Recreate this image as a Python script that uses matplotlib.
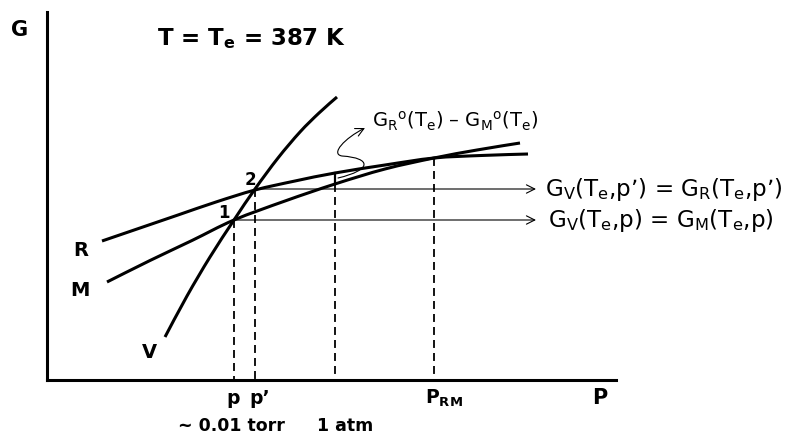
import matplotlib
matplotlib.use("Agg")
import matplotlib.pyplot as plt
from matplotlib.patches import FancyArrowPatch, PathPatch
from matplotlib.path import Path

plt.rcParams['font.family'] = ['DejaVu Sans']
plt.rcParams['mathtext.fontset'] = 'dejavusans'

# ---- schematic curve data (pixel-like units) ----
V_x = [165, 187, 210, 234, 255, 278, 300, 319, 337]
V_y = [337, 296, 257, 220, 189, 158, 132, 113, 97]

R_x = [102, 140, 178, 216, 255, 295, 335, 385, 434, 481, 528]
R_y = [241, 228, 215, 202, 190, 181, 173, 165, 158, 155.5, 154]

M_x = [107, 150, 192, 234, 285, 335, 385, 434, 477, 520]
M_y = [282, 260.5, 240.5, 220, 201, 184, 169, 158, 150, 143]

# characteristic pressures on the P axis
p_marks = [234, 255, 335, 434]          # p, p', 1 atm, P_RM
p_tops = [220, 189, 184, 158]           # where the dashed drop lines start
p_labels = ["p", "p’", "", "P$_\\mathbf{RM}$"]
p_label_x = [233, 260, 335, 444]


def smooth_path(xs, ys):
    """Catmull-Rom through the read points, drawn as cubic Bezier path."""
    pts = list(zip(xs, ys))
    n = len(pts)
    verts = [pts[0]]
    codes = [Path.MOVETO]
    for i in range(n - 1):
        p0 = pts[i - 1] if i > 0 else pts[i]
        p1 = pts[i]
        p2 = pts[i + 1]
        p3 = pts[i + 2] if i + 2 < n else pts[i + 1]
        c1 = (p1[0] + (p2[0] - p0[0]) / 6, p1[1] + (p2[1] - p0[1]) / 6)
        c2 = (p2[0] - (p3[0] - p1[0]) / 6, p2[1] - (p3[1] - p1[1]) / 6)
        verts += [c1, c2, p2]
        codes += [Path.CURVE4] * 3
    return Path(verts, codes)


fig = plt.figure(figsize=(7.86, 4.34), dpi=100)
x0, x1, y0, y1 = 47, 616, 12, 380
ax = fig.add_axes([x0 / 786, (434 - y1) / 434, (x1 - x0) / 786, (y1 - y0) / 434])
ax.set_xlim(x0, x1)
ax.set_ylim(y1, y0)
for s in ['top', 'right']:
    ax.spines[s].set_visible(False)
for s in ['left', 'bottom']:
    ax.spines[s].set_linewidth(2.2)
ax.set_xticks([])
ax.set_yticks([])
ax.patch.set_alpha(0)

lw = 2.2
for xs, ys in [(V_x, V_y), (R_x, R_y), (M_x, M_y)]:
    ax.add_patch(PathPatch(smooth_path(xs, ys), fill=False, edgecolor='black', lw=lw,
                           capstyle='butt', clip_on=False))

# dashed drop lines
for xm, yt in zip(p_marks, p_tops):
    ax.plot([xm, xm], [yt, y1], color='black', lw=1.3, dashes=(4.4, 2.8), clip_on=False)

# solid gap between M and R at 1 atm
ax.plot([335, 335], [173, 184], color='black', lw=1.6, clip_on=False)

# horizontal arrows
for yy, xs in [(189, 255), (220, 234)]:
    ax.add_patch(FancyArrowPatch((xs, yy), (536, yy), arrowstyle='->,head_length=6,head_width=3',
                                 lw=0.8, color='black', clip_on=False, shrinkA=0, shrinkB=0))

# squiggle arrow
verts = [(338, 178), (372, 170), (372, 158), (342, 156), (330, 154), (345, 138), (365, 128)]
codes = [Path.MOVETO] + [Path.CURVE4] * 6
ax.add_patch(FancyArrowPatch(path=Path(verts, codes), arrowstyle='->,head_length=6,head_width=3',
                             lw=0.8, color='black', clip_on=False, shrinkA=0, shrinkB=0))

# texts
ax.text(20, 30, "G", fontsize=15, fontweight='bold', ha='center', va='center')
ax.text(157, 45, "T = T$_\\mathbf{e}$ = 387 K", fontsize=16.5, fontweight='bold',
        ha='left', va='baseline')
ax.text(250, 180, "2", fontsize=12, fontweight='bold', ha='center', va='center')
ax.text(224, 213, "1", fontsize=12, fontweight='bold', ha='center', va='center')
ax.text(81, 250, "R", fontsize=14, fontweight='bold', ha='center', va='center')
ax.text(80, 290, "M", fontsize=14, fontweight='bold', ha='center', va='center')
ax.text(149, 353, "V", fontsize=14, fontweight='bold', ha='center', va='center')
ax.text(600, 398, "P", fontsize=15, fontweight='bold', ha='center', va='center')

for lx, lab in zip(p_label_x, p_labels):
    if lab:
        ax.text(lx, 404, lab, fontsize=13.5, fontweight='bold', ha='center', va='baseline')
ax.text(231, 431, "~ 0.01 torr", fontsize=12.5, fontweight='bold', ha='center', va='baseline')
ax.text(345, 431, "1 atm", fontsize=12.5, fontweight='bold', ha='center', va='baseline')

ax.text(545, 196, "G$_\\mathrm{V}$(T$_\\mathrm{e}$,p’) = G$_\\mathrm{R}$(T$_\\mathrm{e}$,p’)",
        fontsize=16.6, ha='left', va='baseline')
ax.text(548, 227, "G$_\\mathrm{V}$(T$_\\mathrm{e}$,p) = G$_\\mathrm{M}$(T$_\\mathrm{e}$,p)",
        fontsize=16.6, ha='left', va='baseline')
ax.text(372, 127, "G$_\\mathrm{R}$$^\\mathrm{o}$(T$_\\mathrm{e}$) – G$_\\mathrm{M}$$^\\mathrm{o}$(T$_\\mathrm{e}$)",
        fontsize=14, ha='left', va='baseline')

fig.savefig("out.png", dpi=100)
